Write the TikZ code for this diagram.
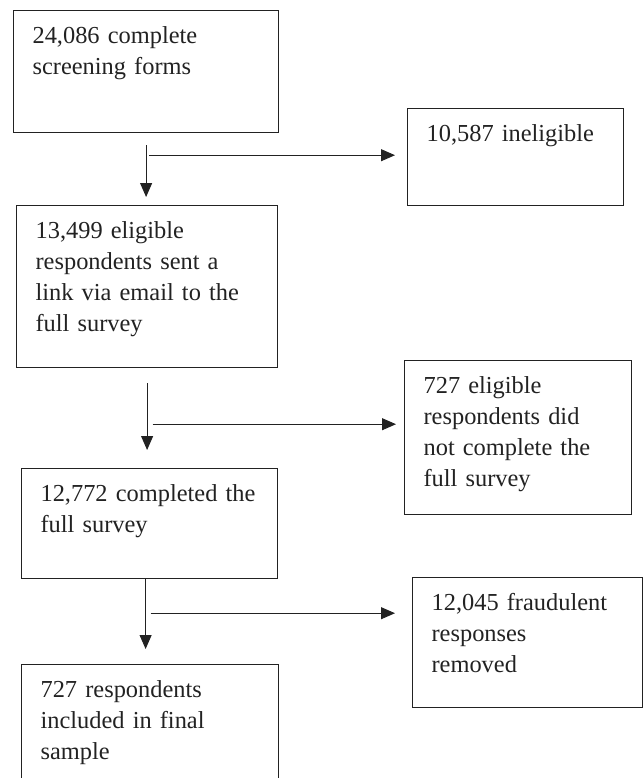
\documentclass[tikz,border=0pt]{standalone}
\usepackage{fontspec}
\setmainfont{Liberation Serif}
\usepackage{xcolor}
\usepackage{tikz}
\usetikzlibrary{arrows.meta}
\definecolor{flowInk}{RGB}{34,34,34}
\tikzset{
  flow/box/.style={draw=flowInk, line width=0.6pt, anchor=north west, align=left,
                   inner xsep=9.5pt, inner ysep=0pt, text height=16.5pt,
                   text=flowInk, font=\fontsize{12.2pt}{15.5pt}\selectfont},
  flow/arrow/.style={-{Triangle[length=7pt, width=6pt]}, line width=0.5pt, draw=flowInk},
}

\begin{document}
\begin{tikzpicture}[x=0.5pt, y=-0.5pt]

  \clip (0,0) rectangle (643,778);

  % ---------------- main column ----------------
  \node[flow/box, text width=113.5pt, text depth=44.5pt] (screen) at (13,10)
    {24,086 complete\\screening forms};
  \node[flow/box, text width=111.5pt, text depth=64.5pt] (eligible) at (16,205)
    {13,499 eligible\\respondents sent a\\link via email to the\\full survey};
  \node[flow/box, text width=109pt, text depth=38.5pt] (completed) at (21,468)
    {12,772 completed the\\full survey};
  \node[flow/box, text width=109.5pt, text depth=48.5pt] (final) at (21,664)
    {727 respondents\\included in final\\sample};

  % ---------------- exclusions ----------------
  \node[flow/box, text width=89pt, text depth=32pt] (inelig) at (407,108)
    {10,587 ineligible};
  \node[flow/box, text width=94.5pt, text depth=60.5pt] (noncomp) at (404,360)
    {727 eligible\\respondents did\\not complete the\\full survey};
  \node[flow/box, text width=96pt, text depth=48.5pt] (fraud) at (412,577)
    {12,045 fraudulent\\responses\\removed};

  % ---------------- downward steps ----------------
  \draw[flow/arrow] ([yshift=-6pt]screen.south) -- ([yshift=4pt]screen.south |- eligible.north);
  \draw[flow/arrow] ([yshift=-7.5pt]eligible.south) -- ([yshift=9pt]eligible.south |- completed.north);
  \draw[flow/arrow] ([xshift=-2pt]completed.south) -- ([shift={(-2pt,7.5pt)}]completed.south |- final.north);

  % ---------------- side branches ----------------
  \coordinate (fork1) at ([shift={(1.5pt,-11pt)}]screen.south);
  \coordinate (fork2) at ([shift={(2.75pt,-28pt)}]eligible.south);
  \coordinate (fork3) at ([shift={(0.5pt,-17pt)}]completed.south);
  \draw[flow/arrow] (fork1) -- ([xshift=-6pt]fork1 -| inelig.west);
  \draw[flow/arrow] (fork2) -- ([xshift=-4pt]fork2 -| noncomp.west);
  \draw[flow/arrow] (fork3) -- ([xshift=-8.5pt]fork3 -| fraud.west);

\end{tikzpicture}
\end{document}
